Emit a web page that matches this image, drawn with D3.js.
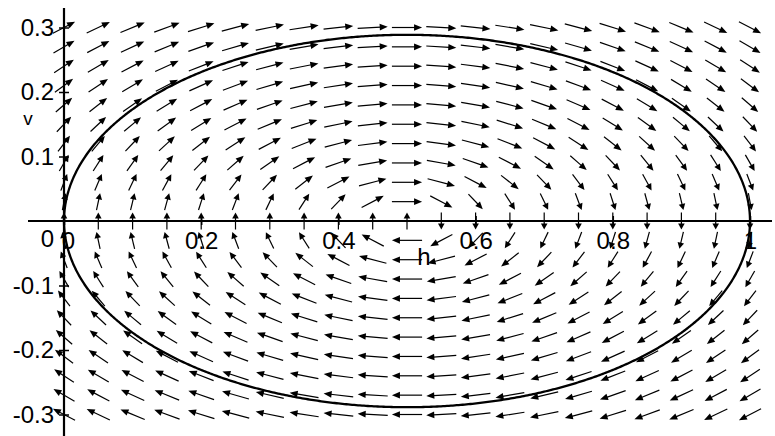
<!DOCTYPE html>
<html>
<head>
<meta charset="utf-8">
<script src="https://cdn.jsdelivr.net/npm/d3@7/dist/d3.min.js"></script>
<style>
  html, body { margin: 0; padding: 0; background: #fff; }
  svg { display: block; }
  text { font-family: "Liberation Sans", Arial, sans-serif; fill: #000; }
</style>
</head>
<body>
<script>
// ---- data ----
const hGrid = [0, 0.05, 0.1, 0.15, 0.2, 0.25, 0.3, 0.35, 0.4, 0.45, 0.5,
               0.55, 0.6, 0.65, 0.7, 0.75, 0.8, 0.85, 0.9, 0.95, 1];
const vGrid = [-0.3, -0.27, -0.24, -0.21, -0.18, -0.15, -0.12, -0.09, -0.06, -0.03, 0,
               0.03, 0.06, 0.09, 0.12, 0.15, 0.18, 0.21, 0.24, 0.27, 0.3];
const xTickValues = [0, 0.2, 0.4, 0.6, 0.8, 1];
const xTickLabels = ["0", "0.2", "0.4", "0.6", "0.8", "1"];
const yTickValues = [-0.3, -0.2, -0.1, 0.1, 0.2, 0.3];
const yTickLabels = ["-0.3", "-0.2", "-0.1", "0.1", "0.2", "0.3"];
const initialState = [0, 0];       // h(0), v(0)
const restoring = [1 / 6, 2 / 6];  // v' = a - b*h ; h' = v
const tEnd = 11;

function field(h, v) { return [v, restoring[0] - restoring[1] * h]; }

// ---- layout ----
const W = 775, H = 436;
const svg = d3.select("body").append("svg").attr("width", W).attr("height", H);
const x = d3.scaleLinear().domain([0, 1]).range([64, 750]);
const y = d3.scaleLinear().domain([-0.3, 0.3]).range([414.5, 27.5]);

// axes lines
svg.append("line").attr("x1", 28).attr("x2", 772).attr("y1", y(0)).attr("y2", y(0))
  .attr("stroke", "#000").attr("stroke-width", 2);
svg.append("line").attr("x1", x(0)).attr("x2", x(0)).attr("y1", 8).attr("y2", H)
  .attr("stroke", "#000").attr("stroke-width", 2.2);

// x axis
const xAxis = d3.axisBottom(x).tickValues(xTickValues)
  .tickFormat((d, i) => xTickLabels[i]).tickSize(5).tickPadding(7);
const gx = svg.append("g").attr("transform", `translate(0,${y(0) - 1})`).call(xAxis);
gx.select(".domain").remove();
gx.selectAll(".tick line").attr("stroke", "#000").attr("stroke-width", 1.5).attr("y1", -4);
gx.selectAll(".tick text").attr("font-size", 24).attr("font-family", "Liberation Sans, Arial, sans-serif")
  .attr("dx", d => d === 0 ? 4 : 0);

// y axis
const yAxis = d3.axisLeft(y).tickValues(yTickValues)
  .tickFormat((d, i) => yTickLabels[i]).tickSize(5).tickPadding(5);
const gy = svg.append("g").attr("transform", `translate(${x(0)},0)`).call(yAxis);
gy.select(".domain").remove();
gy.selectAll(".tick line").attr("stroke", "#000").attr("stroke-width", 1.5).attr("x2", 5).attr("x1", -5);
gy.selectAll(".tick text").attr("font-size", 24).attr("font-family", "Liberation Sans, Arial, sans-serif");

// origin "0" for vertical axis
svg.append("text").attr("x", 47.5).attr("y", 247).attr("text-anchor", "middle")
  .attr("font-size", 24).text("0");

// axis titles
svg.append("text").attr("x", 28).attr("y", 125).attr("text-anchor", "middle")
  .attr("font-size", 19).text("v");
svg.append("text").attr("x", 424).attr("y", 265).attr("text-anchor", "middle")
  .attr("font-size", 24).text("h");

// ---- direction field ----
const dh = hGrid[1] - hGrid[0], dv = vGrid[1] - vGrid[0];
const cellW = x(dh) - x(0), cellH = y(0) - y(dv);
const arrows = [];
hGrid.forEach(h => vGrid.forEach(v => {
  let [fu, fw] = field(h, v);
  let a = fu / dh, b = fw / dv;
  let n = Math.hypot(a, b);
  if (n < 1e-9) { a = 0; b = 1; n = 1; }
  arrows.push({ cx: x(h), cy: y(v), ux: a / n * cellW, uy: -b / n * cellH });
}));
const scale = 0.88;
const ag = svg.append("g");
arrows.forEach(d => {
  const dx = d.ux * scale, dy = d.uy * scale;
  const x0 = d.cx - dx / 2, y0 = d.cy - dy / 2, x1 = d.cx + dx / 2, y1 = d.cy + dy / 2;
  const len = Math.hypot(dx, dy);
  const ex = dx / len, ey = dy / len;
  const hl = Math.min(8, len * 0.36), hw = 3.3;
  const bx = x1 - ex * hl, by = y1 - ey * hl;
  ag.append("line").attr("x1", x0).attr("y1", y0).attr("x2", bx + ex).attr("y2", by + ey)
    .attr("stroke", "#000").attr("stroke-width", 1.2);
  ag.append("path")
    .attr("d", `M${x1},${y1}L${bx - ey * hw},${by + ex * hw}L${bx + ey * hw},${by - ex * hw}Z`)
    .attr("fill", "#000");
});

// ---- solution curve (RK4) ----
const pts = [];
let s = initialState.slice();
const dt = 0.01;
for (let t = 0; t <= tEnd; t += dt) {
  pts.push(s.slice());
  const k1 = field(s[0], s[1]);
  const k2 = field(s[0] + dt / 2 * k1[0], s[1] + dt / 2 * k1[1]);
  const k3 = field(s[0] + dt / 2 * k2[0], s[1] + dt / 2 * k2[1]);
  const k4 = field(s[0] + dt * k3[0], s[1] + dt * k3[1]);
  s = [s[0] + dt / 6 * (k1[0] + 2 * k2[0] + 2 * k3[0] + k4[0]),
       s[1] + dt / 6 * (k1[1] + 2 * k2[1] + 2 * k3[1] + k4[1])];
}
svg.append("path").datum(pts)
  .attr("d", d3.line().x(d => x(d[0])).y(d => y(d[1])))
  .attr("fill", "none").attr("stroke", "#000").attr("stroke-width", 2.3);
</script>
</body>
</html>
